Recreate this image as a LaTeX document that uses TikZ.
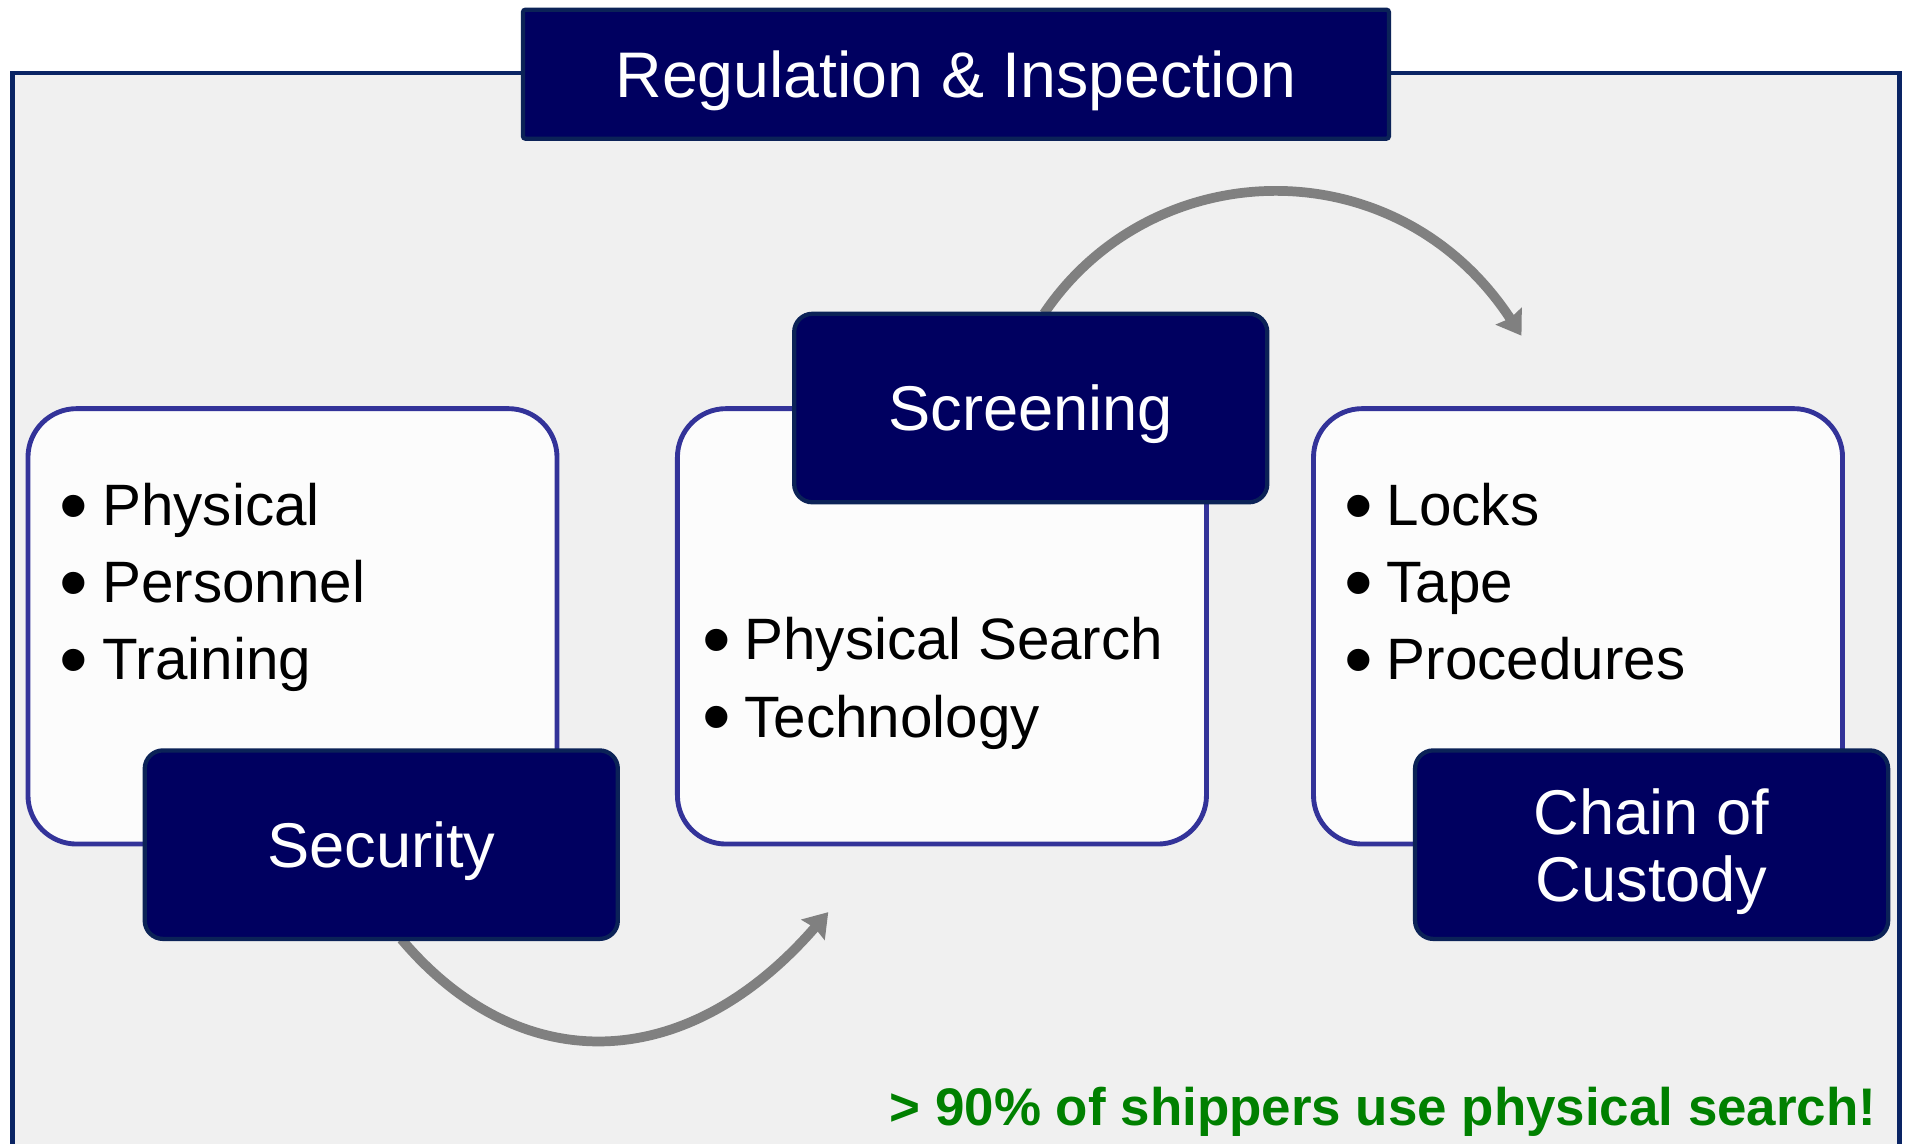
\documentclass[tikz,border=0pt]{standalone}
\usepackage{fontspec}
\setmainfont{Liberation Sans}
\usetikzlibrary{arrows.meta}
\definecolor{navy}{HTML}{000060}
\definecolor{navyedge}{HTML}{0B2257}
\definecolor{frameedge}{HTML}{0A2464}
\definecolor{panel}{HTML}{F0F0F0}
\definecolor{cardedge}{HTML}{333399}
\definecolor{cardfill}{HTML}{FCFCFC}
\definecolor{arrowgray}{HTML}{808080}
\definecolor{notegreen}{HTML}{008000}
\newcommand{\bigbul}{\makebox[32pt][l]{\hspace{-3pt}\raisebox{-6.5pt}{\scalebox{1.4}{\textbullet}}}}
\begin{document}
\begin{tikzpicture}[x=1pt,y=-1pt,
 card/.style={draw=cardedge, line width=4pt, fill=cardfill, rounded corners=40pt, minimum width=435pt, minimum height=358pt, inner sep=0pt},
 tag/.style={draw=navyedge, line width=3.5pt, fill=navy, rounded corners=15pt, minimum width=389pt, minimum height=155pt, text=white, font=\fontsize{52}{55}\selectfont, inner sep=0pt, text height=37pt, text depth=0pt, align=center},
 ghost/.style={minimum width=389pt, minimum height=155pt, inner sep=0pt},
 bul/.style={anchor=base west, inner sep=0pt, font=\fontsize{48}{58}\selectfont},
 arc/.style={draw=arrowgray, line width=8pt, -{Stealth[length=19pt,width=25pt,inset=2pt]}},
]
\useasboundingbox (0,0) rectangle (1568,940);
\clip (0,0) rectangle (1568,940);
\fill[white] (0,0) rectangle (1568,940);
% outer frame
\draw[draw=frameedge, line width=4pt, fill=panel] (10,60) rectangle (1562,980);
% title
\node[draw=navyedge, line width=3.5pt, fill=navy, rounded corners=2pt, minimum width=712pt, minimum height=106pt, inner sep=0pt, text=white, font=\fontsize{53}{60}\selectfont, text height=38pt, text depth=0pt] (title) at (786,61) {Regulation \& Inspection};
% cards
\node[card] (cardL) at (240.5,515) {};
\node[card] (cardM) at (774.5,515) {};
\node[card] (cardR) at (1297.5,515) {};
% bullets
\node[bul] (l1) at (52,432) {\bigbul Physical};
\node[bul] (l2) at (52,495.5) {\bigbul Personnel};
\node[bul] (l3) at (52,559) {\bigbul Training};
\node[bul] (m1) at (580,542) {\bigbul Physical Search};
\node[bul] (m2) at (580,606) {\bigbul Technology};
\node[bul] (r1) at (1108,432) {\bigbul Locks};
\node[bul] (r2) at (1108,495.5) {\bigbul Tape};
\node[bul] (r3) at (1108,559) {\bigbul Procedures};
% coordinates for arrow tips
\coordinate (tipTop) at (1251,276);
\coordinate (tipBot) at (681,750);
% placeholders of the tags, so the arrows can be drawn beneath them
\node[ghost] (secGhost) at (313.5,694.5) {};
\node[ghost] (scrGhost) at (847.5,335.5) {};
\draw[arc] (scrGhost.82) .. controls (948,125) and (1149,120) .. (tipTop);
\draw[arc] (secGhost.282) .. controls (426,886) and (563,886) .. (tipBot);
\node[tag] (sec) at (secGhost.center) {Security};
\node[tag] (scr) at (scrGhost.center) {Screening};
\node[tag, text height={}] (coc) at (1358,694.5) {Chain of\\Custody};
% note
\node[anchor=base east, inner sep=0pt, text=notegreen, font=\fontsize{43.5}{50}\selectfont\bfseries] (note) at (1543,925) {> 90\% of shippers use physical search!};
\end{tikzpicture}
\end{document}
